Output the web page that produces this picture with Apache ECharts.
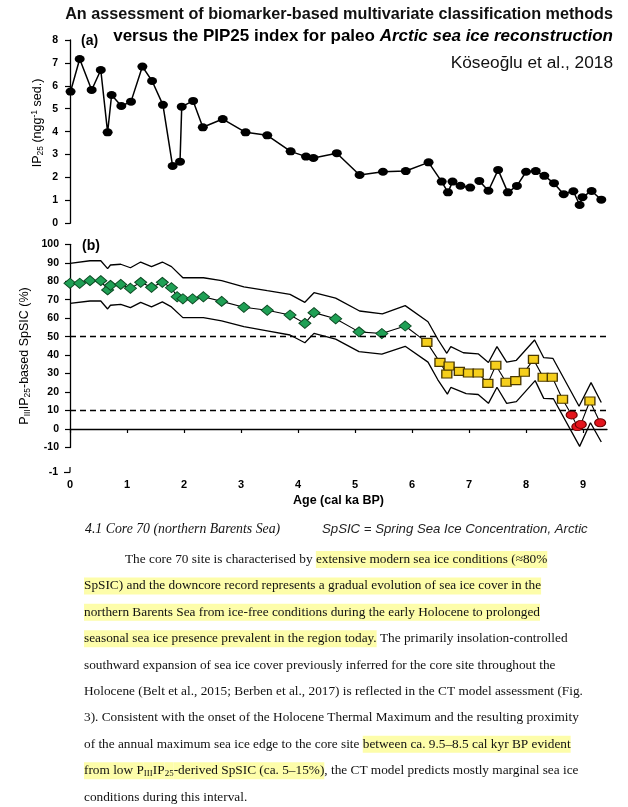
<!DOCTYPE html>
<html><head><meta charset="utf-8">
<script src="https://cdn.jsdelivr.net/npm/echarts@6/dist/echarts.min.js"></script>
<style>html,body{margin:0;padding:0;background:#fff}#c{width:628px;height:807px}</style>
</head><body><div id="c"></div>
<script>
// ---------- Data ----------
const xTicks = [0, 1, 2, 3, 4, 5, 6, 7, 8, 9];

// (a) IP25 concentration (ng g-1 sed.)
const ip25Age = [0.01, 0.17, 0.38, 0.54, 0.66, 0.73, 0.90, 1.07, 1.27, 1.44, 1.63, 1.80, 1.93, 1.96, 2.16, 2.33, 2.68, 3.08, 3.46, 3.87, 4.14, 4.27, 4.68, 5.08, 5.49, 5.89, 6.29, 6.52, 6.63, 6.71, 6.85, 7.02, 7.18, 7.34, 7.51, 7.68, 7.84, 8.00, 8.17, 8.32, 8.49, 8.66, 8.83, 8.94, 8.99, 9.15, 9.32];
const ip25Val = [5.75, 7.17, 5.82, 6.69, 3.97, 5.60, 5.12, 5.31, 6.84, 6.21, 5.17, 2.50, 2.69, 5.09, 5.34, 4.19, 4.55, 3.97, 3.84, 3.14, 2.91, 2.85, 3.06, 2.11, 2.25, 2.28, 2.66, 1.82, 1.35, 1.82, 1.64, 1.56, 1.85, 1.42, 2.33, 1.35, 1.63, 2.25, 2.28, 2.07, 1.75, 1.27, 1.40, 0.80, 1.14, 1.41, 1.03];
const ip25LineBreak = 7.10; // the line is interrupted here

// (b) PIIIIP25-based SpSIC (%)
const greenAge = [0.00, 0.17, 0.35, 0.54, 0.66, 0.71, 0.89, 1.06, 1.24, 1.43, 1.62, 1.78, 1.88, 1.98, 2.15, 2.34, 2.66, 3.05, 3.46, 3.86, 4.12, 4.28, 4.66, 5.07, 5.47, 5.88];
const greenVal = [78.9, 78.9, 80.3, 80.3, 75.3, 77.8, 78.3, 76.2, 79.4, 76.7, 79.4, 76.5, 71.6, 70.5, 70.5, 71.6, 69.1, 65.9, 64.3, 61.7, 57.2, 63.0, 59.7, 52.6, 51.7, 55.8];
const yellowAge = [6.26, 6.49, 6.61, 6.65, 6.83, 6.99, 7.16, 7.33, 7.47, 7.65, 7.82, 7.97, 8.13, 8.30, 8.46, 8.64, 9.12];
const yellowVal = [46.9, 36.1, 29.8, 34.1, 31.2, 30.3, 30.3, 24.7, 34.5, 25.3, 26.2, 30.7, 37.7, 28.0, 28.0, 16.1, 15.2];
const redAge = [8.80, 8.90, 8.96, 9.30];
const redVal = [7.6, 1.3, 2.5, 3.4];

const upperAge = [0.00, 0.35, 0.54, 0.66, 0.71, 0.89, 1.06, 1.24, 1.43, 1.62, 1.78, 1.98, 2.34, 2.66, 3.05, 3.46, 3.86, 4.12, 4.28, 4.66, 5.08, 5.48, 5.88, 6.28, 6.46, 6.61, 6.68, 6.90, 7.16, 7.34, 7.49, 7.66, 7.83, 8.15, 8.31, 8.47, 8.93, 9.14, 9.32];
const upperVal = [89.7, 91.1, 91.1, 86.8, 88.8, 89.2, 87.3, 90.4, 87.9, 90.4, 87.9, 81.9, 81.9, 80.3, 77.0, 74.9, 72.9, 68.6, 73.8, 70.9, 63.9, 62.3, 66.8, 58.1, 48.2, 41.0, 44.6, 41.3, 40.7, 36.0, 44.6, 36.2, 37.2, 48.2, 38.6, 38.3, 12.3, 25.1, 14.4];
const lowerAge = [0.00, 0.35, 0.54, 0.66, 0.71, 0.89, 1.06, 1.24, 1.43, 1.62, 1.78, 1.98, 2.34, 2.66, 3.05, 3.46, 3.86, 4.12, 4.28, 4.66, 5.07, 5.47, 5.88, 6.28, 6.45, 6.62, 6.68, 6.95, 7.16, 7.34, 7.49, 7.66, 7.83, 8.16, 8.31, 8.48, 8.94, 9.13, 9.32];
const lowerVal = [68.0, 69.3, 69.3, 65.0, 67.0, 67.5, 65.7, 68.6, 66.1, 68.8, 66.1, 60.3, 60.3, 58.6, 55.4, 53.1, 50.9, 46.7, 51.8, 48.7, 41.9, 40.6, 44.8, 36.2, 26.8, 18.9, 22.5, 19.2, 18.7, 13.9, 22.6, 13.9, 14.8, 26.2, 16.6, 16.4, -9.4, 3.4, -7.0];
const thresholds = [50, 10];

// ---------- Build ----------
const zip = (a, b) => a.map((x, i) => [x, b[i]]);
const ip25Data = [];
ip25Age.forEach((x, i) => {
  if (i > 0 && ip25Age[i - 1] < ip25LineBreak && x > ip25LineBreak) ip25Data.push([ip25LineBreak, '-']);
  ip25Data.push([x, ip25Val[i]]);
});
const allPts = zip(greenAge, greenVal).concat(zip(yellowAge, yellowVal), zip(redAge, redVal)).sort((a, b) => a[0] - b[0]);

const SANS = "'Liberation Sans', Arial, sans-serif";
const SERIF = "'Liberation Serif', 'Times New Roman', serif";
const XMAX = 9.42;

const chart = echarts.init(document.getElementById('c'));

const axisY = (gi, min, max, interval, margin) => ({
  gridIndex: gi, type: 'value', min, max, interval,
  axisLine: { show: true, lineStyle: { color: '#000', width: 1.3 } },
  axisTick: { show: true, length: 5, lineStyle: { color: '#000', width: 1.2 } },
  axisLabel: { color: '#000', fontWeight: 'bold', fontSize: 10.5, fontFamily: SANS, margin },
  splitLine: { show: false }
});

// paragraph
const PF = 13.3;
const rich = {
  t: { fontFamily: SERIF, fontSize: PF, color: '#111', height: 17 },
  h: { fontFamily: SERIF, fontSize: PF, color: '#3a3a2a', height: 17, backgroundColor: '#fdfdaa' },
  hs: { fontFamily: SERIF, fontSize: 9, color: '#3a3a2a', height: 11, padding: [6, 0, 0, 0], backgroundColor: '#fdfdaa' }
};
const paraLines = [
  [125, '{t|The core 70 site is characterised by }{h|extensive modern sea ice conditions (≈80%}'],
  [84, '{h|SpSIC) and the downcore record represents a gradual evolution of sea ice cover in the}'],
  [84, '{h|northern Barents Sea from ice-free conditions during the early Holocene to prolonged}'],
  [84, '{h|seasonal sea ice presence prevalent in the region today.}{t| The primarily insolation-controlled}'],
  [84, '{t|southward expansion of sea ice cover previously inferred for the core site throughout the}'],
  [84, '{t|Holocene (Belt et al., 2015; Berben et al., 2017) is reflected in the CT model assessment (Fig.}'],
  [84, '{t|3). Consistent with the onset of the Holocene Thermal Maximum and the resulting proximity}'],
  [84, '{t|of the annual maximum sea ice edge to the core site }{h|between ca. 9.5–8.5 cal kyr BP evident}'],
  [84, '{h|from low P}{hs|III}{h|IP}{hs|25}{h|-derived SpSIC (ca. 5–15%)}{t|, the CT model predicts mostly marginal sea ice}'],
  [84, '{t|conditions during this interval.}']
];
const paraGraphics = paraLines.map((l, i) => ({
  type: 'text', x: l[0], y: 559.5 + i * 26.4,
  style: { text: l[1], rich, align: 'left', verticalAlign: 'middle', fontFamily: SERIF, fontSize: PF, fill: '#111' }
}));

const nameRich = {
  n: { fontFamily: SANS, fontSize: 12.5, color: '#111', height: 16 },
  s: { fontFamily: SANS, fontSize: 8.5, color: '#111', height: 10, padding: [6, 0, 0, 0] },
  p: { fontFamily: SANS, fontSize: 8.5, color: '#111', height: 10, padding: [0, 0, 6, 0] }
};

chart.setOption({
  animation: false,
  backgroundColor: '#fff',
  textStyle: { fontFamily: SANS },
  grid: [
    { left: 70, top: 40, width: 537, height: 183.3 },
    { left: 70, top: 244.3, width: 537, height: 203.2 }
  ],
  xAxis: [
    { gridIndex: 0, type: 'value', min: 0, max: XMAX, show: false },
    {
      gridIndex: 1, type: 'value', min: 0, max: XMAX, offset: 25, position: 'bottom',
      axisLine: { show: true, lineStyle: { color: '#000', width: 1.3 } },
      axisTick: { show: true, customValues: xTicks, length: 4, lineStyle: { color: '#000', width: 1.2 } },
      axisLabel: { customValues: xTicks, color: '#000', fontWeight: 'bold', fontSize: 11, fontFamily: SANS, margin: 7 },
      splitLine: { show: false },
      name: 'Age (cal ka BP)', nameLocation: 'middle', nameGap: 22,
      nameTextStyle: { fontWeight: 'bold', fontSize: 12.5, color: '#000', fontFamily: SANS }
    }
  ],
  yAxis: [axisY(0, 0, 8, 1, 12), axisY(1, -10, 100, 10, 11)],
  series: [
    {
      type: 'line', xAxisIndex: 0, yAxisIndex: 0, data: ip25Data, connectNulls: false,
      symbol: 'circle', symbolSize: [10, 8], showAllSymbol: true,
      lineStyle: { color: '#000', width: 1.5 }, itemStyle: { color: '#000' }, z: 3
    },
    {
      type: 'line', xAxisIndex: 1, yAxisIndex: 1, data: zip(upperAge, upperVal),
      symbol: 'none', lineStyle: { color: '#000', width: 1.3 }, z: 2
    },
    {
      type: 'line', xAxisIndex: 1, yAxisIndex: 1, data: zip(lowerAge, lowerVal),
      symbol: 'none', lineStyle: { color: '#000', width: 1.3 }, z: 2
    },
    {
      type: 'line', xAxisIndex: 1, yAxisIndex: 1, data: allPts,
      symbol: 'none', lineStyle: { color: '#000', width: 1.1 }, z: 2,
      markLine: {
        silent: true, symbol: 'none', label: { show: false },
        lineStyle: { color: '#000', width: 1.3, type: [6, 4] },
        data: thresholds.map(v => ({ yAxis: v }))
      }
    },
    {
      type: 'scatter', xAxisIndex: 1, yAxisIndex: 1, data: zip(greenAge, greenVal),
      symbol: 'diamond', symbolSize: [12, 10],
      itemStyle: { color: '#1fa055', borderColor: '#0b4a22', borderWidth: 1, opacity: 1 }, z: 4
    },
    {
      type: 'scatter', xAxisIndex: 1, yAxisIndex: 1, data: zip(yellowAge, yellowVal),
      symbol: 'rect', symbolSize: [10, 8],
      itemStyle: { color: '#f6cf1c', borderColor: '#4a3800', borderWidth: 1.2, opacity: 1 }, z: 4
    },
    {
      type: 'scatter', xAxisIndex: 1, yAxisIndex: 1, data: zip(redAge, redVal),
      symbol: 'circle', symbolSize: [11, 8],
      itemStyle: { color: '#e3141c', borderColor: '#6a0000', borderWidth: 1, opacity: 1 }, z: 4
    }
  ],
  graphic: [
    { type: 'text', x: 613, y: 15, style: { text: 'An assessment of biomarker-based multivariate classification methods', fontFamily: SANS, fontSize: 16.2, fontWeight: 'bold', fill: '#111', align: 'right', verticalAlign: 'middle' } },
    { type: 'text', x: 613, y: 36.5, style: {
      text: '{b|versus the PIP25 index for paleo }{i|Arctic sea ice reconstruction}', align: 'right', verticalAlign: 'middle',
      rich: { b: { fontFamily: SANS, fontSize: 17, fontWeight: 'bold', color: '#111' }, i: { fontFamily: SANS, fontSize: 17, fontWeight: 'bold', fontStyle: 'italic', color: '#111' } } } },
    { type: 'text', x: 613, y: 63, style: { text: 'Köseoğlu et al., 2018', fontFamily: SANS, fontSize: 17.3, fill: '#111', align: 'right', verticalAlign: 'middle' } },
    { type: 'text', x: 81, y: 41, style: { text: '(a)', fontFamily: SANS, fontSize: 14, fontWeight: 'bold', fill: '#000', align: 'left', verticalAlign: 'middle' } },
    { type: 'text', x: 82, y: 246, style: { text: '(b)', fontFamily: SANS, fontSize: 14, fontWeight: 'bold', fill: '#000', align: 'left', verticalAlign: 'middle' } },
    { type: 'text', x: 38, y: 123, rotation: Math.PI / 2, style: { text: '{n|IP}{s|25}{n| (ngg}{p|-1}{n| sed.)}', rich: nameRich, align: 'center', verticalAlign: 'middle' } },
    { type: 'text', x: 25, y: 356, rotation: Math.PI / 2, style: { text: '{n|P}{s|III}{n|IP}{s|25}{n|-based SpSIC (%)}', rich: nameRich, align: 'center', verticalAlign: 'middle' } },
    { type: 'text', x: 58, y: 472.5, style: { text: '-1', fontFamily: SANS, fontSize: 10.5, fontWeight: 'bold', fill: '#000', align: 'right', verticalAlign: 'middle' } },
    { type: 'line', shape: { x1: 64, y1: 472.5, x2: 70, y2: 472.5 }, style: { stroke: '#000', lineWidth: 1.2 } },
    { type: 'line', shape: { x1: 70, y1: 467, x2: 70, y2: 472.5 }, style: { stroke: '#000', lineWidth: 1.2 } },
    { type: 'text', x: 85, y: 529, style: { text: '4.1 Core 70 (northern Barents Sea)', fontFamily: SERIF, fontSize: 13.8, fontStyle: 'italic', fill: '#111', align: 'left', verticalAlign: 'middle' } },
    { type: 'text', x: 322, y: 529, style: { text: 'SpSIC = Spring Sea Ice Concentration, Arctic', fontFamily: SANS, fontSize: 13.2, fontStyle: 'italic', fill: '#222', align: 'left', verticalAlign: 'middle' } }
  ].concat(paraGraphics)
});
</script>
</body></html>
